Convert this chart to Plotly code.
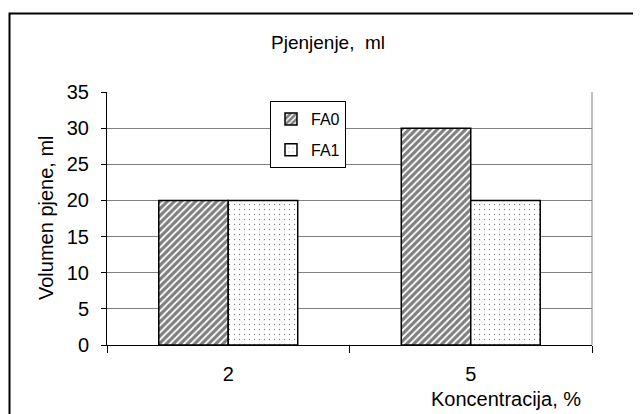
import plotly.graph_objects as go

categories = ["2", "5"]
fa0_values = [20, 30]
fa1_values = [20, 20]
series_names = ["FA0", "FA1"]
y_ticks = [0, 5, 10, 15, 20, 25, 30, 35]

FONT = "Liberation Sans, Arial, sans-serif"

# page body has an 8px default margin: draw the figure 8px smaller
OFF = 8
W, H = 641 - OFF, 414 - OFF
L, R, T, B = 107 - OFF, 592 - OFF, 92 - OFF, 345 - OFF
pw, ph = R - L, B - T

def px(x):
    return (x - OFF - L) / pw

def py(y):
    return (B - (y - OFF)) / ph

fig = go.Figure()
fig.add_trace(go.Bar(
    x=categories, y=fa0_values, name=series_names[0],
    legendgroup="a",
    marker=dict(color="white", line=dict(color="black", width=1.5),
                pattern=dict(shape="/", fgcolor="black", bgcolor="white",
                             size=5, solidity=0.65, fillmode="overlay")),
))
fig.add_trace(go.Bar(
    x=categories, y=fa1_values, name=series_names[1],
    legendgroup="b",
    marker=dict(color="white", line=dict(color="black", width=1.5),
                pattern=dict(shape=".", fgcolor="black", bgcolor="white",
                             size=5, solidity=0.05, fillmode="overlay")),
))

fig.update_layout(
    width=W, height=H,
    margin=dict(l=L, r=W - R, t=T, b=H - B),
    paper_bgcolor="white", plot_bgcolor="white",
    font=dict(family=FONT, size=20, color="black"),
    barmode="group", bargap=0.427, bargroupgap=0,
    showlegend=True,
    legend=dict(
        x=px(270), y=py(101), xanchor="left", yanchor="top",
        bgcolor="white", bordercolor="black", borderwidth=1,
        font=dict(family=FONT, size=16, color="black"),
        traceorder="grouped", tracegroupgap=7,
    ),
    xaxis=dict(
        type="category", showline=True, linecolor="black", linewidth=1,
        ticks="outside", ticklen=7, tickcolor="black", tickson="boundaries",
        showgrid=False, ticklabelstandoff=11,
        tickfont=dict(family=FONT, size=20),
    ),
    yaxis=dict(
        range=[0, 35], tickvals=y_ticks, showline=True, linecolor="black",
        linewidth=1, ticks="outside", ticklen=5, tickcolor="black",
        showgrid=True, gridcolor="#808080", gridwidth=1, zeroline=False,
        ticklabelstandoff=8,
        tickfont=dict(family=FONT, size=20),
    ),
    shapes=[
        dict(type="line", xref="paper", yref="paper", x0=1, x1=1, y0=0, y1=1,
             line=dict(color="#808080", width=1)),
        dict(type="rect", xref="paper", yref="paper",
             x0=px(9.5), y0=-0.6, x1=1.3, y1=py(13.5),
             line=dict(color="black", width=2), fillcolor="rgba(0,0,0,0)",
             layer="below"),
    ],
    annotations=[
        dict(text="Pjenjenje,  ml", xref="paper", yref="paper",
             x=px(328), y=py(42), xanchor="center", yanchor="middle",
             showarrow=False, font=dict(family=FONT, size=19)),
        dict(text="Volumen pjene, ml", xref="paper", yref="paper",
             x=px(46), y=py(218), xanchor="center", yanchor="middle",
             textangle=-90, showarrow=False, font=dict(family=FONT, size=20)),
        dict(text="Koncentracija, %", xref="paper", yref="paper",
             x=px(506), y=py(399), xanchor="center", yanchor="middle",
             showarrow=False, font=dict(family=FONT, size=20)),
    ],
)

fig.write_html("out.html")
